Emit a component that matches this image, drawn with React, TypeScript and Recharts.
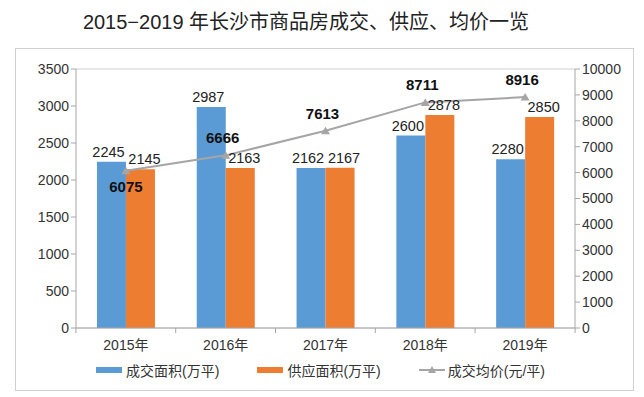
import React from 'react';
import { ComposedChart, Bar, Line, XAxis, YAxis, CartesianGrid, Legend, LabelList } from 'recharts';

const years = ['2015年', '2016年', '2017年', '2018年', '2019年'];
const dealArea = [2245, 2987, 2162, 2600, 2280];
const supplyArea = [2145, 2163, 2167, 2878, 2850];
const avgPrice = [6075, 6666, 7613, 8711, 8916];
const leftTicks = [0, 500, 1000, 1500, 2000, 2500, 3000, 3500];
const rightTicks = [0, 1000, 2000, 3000, 4000, 5000, 6000, 7000, 8000, 9000, 10000];

const data = years.map((name, i) => ({
    name,
    deal: dealArea[i],
    supply: supplyArea[i],
    price: avgPrice[i],
}));

const FONT = '"Liberation Sans", "Noto Sans CJK SC", sans-serif';
const TEXT = '#333';
const AXIS = '#a6a6a6';
const BLUE = '#5b9bd5';
const ORANGE = '#ed7d31';
const GRAY = '#a5a5a5';
const BAND = 100;

const XTick = (props: any) => {
    const { x, y, payload, index } = props;
    return (
        <g>
            <line x1={x - BAND / 2} y1={y - 8} x2={x - BAND / 2} y2={y - 3} stroke={AXIS} />
            {index === years.length - 1 && (
                <line x1={x + BAND / 2} y1={y - 8} x2={x + BAND / 2} y2={y - 3} stroke={AXIS} />
            )}
            <text x={x} y={y + 14} textAnchor="middle" fill={TEXT} fontSize={14} fontFamily={FONT}>
                {payload.value}
            </text>
        </g>
    );
};

const Triangle = (props: any) => {
    const { cx, cy } = props;
    if (cx == null || cy == null) return null;
    return <path d={`M${cx},${cy - 4} L${cx + 4.5},${cy + 3.5} L${cx - 4.5},${cy + 3.5} Z`} fill={GRAY} />;
};

const barLabel = (shift: number) => (props: any) => {
    const { x, y, width, value } = props;
    return (
        <text x={x + width / 2 + shift} y={y - 5} textAnchor="middle" fill="#222" fontSize={14.5} fontFamily={FONT}>
            {value}
        </text>
    );
};

const PriceLabel = (props: any) => {
    const { x, y, value, index } = props;
    const below = index === 0;
    return (
        <text
            x={below ? x : x - 3}
            y={below ? y + 21 : y - 12}
            textAnchor="middle"
            fill="#111"
            fontSize={15}
            fontWeight="bold"
            fontFamily={FONT}
        >
            {value}
        </text>
    );
};

const LegendContent = () => (
    <div style={{ display: 'flex', justifyContent: 'center', alignItems: 'center', fontFamily: FONT, fontSize: 14, color: TEXT, gap: 38, marginLeft: -8, marginTop: 2 }}>
        <span style={{ display: 'flex', alignItems: 'center' }}>
            <span style={{ width: 26, height: 6, background: BLUE, marginRight: 4 }} />
            成交面积(万平)
        </span>
        <span style={{ display: 'flex', alignItems: 'center' }}>
            <span style={{ width: 26, height: 6, background: ORANGE, marginRight: 4 }} />
            供应面积(万平)
        </span>
        <span style={{ display: 'flex', alignItems: 'center' }}>
            <svg width={26} height={10} style={{ marginRight: 3 }}>
                <line x1={0} y1={5} x2={26} y2={5} stroke={GRAY} strokeWidth={2} />
                <path d="M13,1 L17,8 L9,8 Z" fill={GRAY} />
            </svg>
            成交均价(元/平)
        </span>
    </div>
);

export default function App() {
    return (
        <div style={{ position: 'absolute', left: 0, top: 0, width: 644, height: 397, background: '#fff', fontFamily: FONT }}>
            <div style={{ position: 'absolute', top: 6, left: -16, width: 644, textAlign: 'center', fontSize: 20, color: '#222' }}>
                2015−2019 年长沙市商品房成交、供应、均价一览
            </div>
            <div style={{ position: 'absolute', left: 15, top: 48, width: 619, height: 343, border: '1px solid #d0d0d0', boxSizing: 'border-box' }}>
                <ComposedChart
                    width={617}
                    height={341}
                    data={data}
                    margin={{ top: 20, right: 0, left: 0, bottom: 0 }}
                    barCategoryGap="21%"
                    barGap={0}
                >
                    <CartesianGrid vertical={false} stroke="#d0d0d0" />
                    <XAxis
                        dataKey="name"
                        tick={<XTick />}
                        tickLine={false}
                        axisLine={{ stroke: AXIS }}
                        height={30}
                        interval={0}
                    />
                    <YAxis
                        yAxisId="left"
                        domain={[0, 3500]}
                        ticks={leftTicks}
                        width={60}
                        tick={{ fill: TEXT, fontSize: 14, fontFamily: FONT }}
                        tickSize={5}
                        tickLine={{ stroke: AXIS }}
                        axisLine={{ stroke: AXIS }}
                        interval={0}
                    />
                    <YAxis
                        yAxisId="right"
                        orientation="right"
                        domain={[0, 10000]}
                        ticks={rightTicks}
                        width={58}
                        tick={{ fill: TEXT, fontSize: 14, fontFamily: FONT }}
                        tickSize={5}
                        tickLine={{ stroke: AXIS }}
                        axisLine={{ stroke: AXIS }}
                        interval={0}
                    />
                    <Legend content={<LegendContent />} verticalAlign="bottom" height={32} />
                    <Bar yAxisId="left" dataKey="deal" fill={BLUE} isAnimationActive={false} name="成交面积(万平)">
                        <LabelList dataKey="deal" content={barLabel(-3)} />
                    </Bar>
                    <Bar yAxisId="left" dataKey="supply" fill={ORANGE} isAnimationActive={false} name="供应面积(万平)">
                        <LabelList dataKey="supply" content={barLabel(4)} />
                    </Bar>
                    <Line
                        yAxisId="right"
                        dataKey="price"
                        stroke={GRAY}
                        strokeWidth={2}
                        dot={<Triangle />}
                        activeDot={false}
                        isAnimationActive={false}
                        name="成交均价(元/平)"
                    >
                        <LabelList dataKey="price" content={<PriceLabel />} />
                    </Line>
                </ComposedChart>
            </div>
        </div>
    );
}
